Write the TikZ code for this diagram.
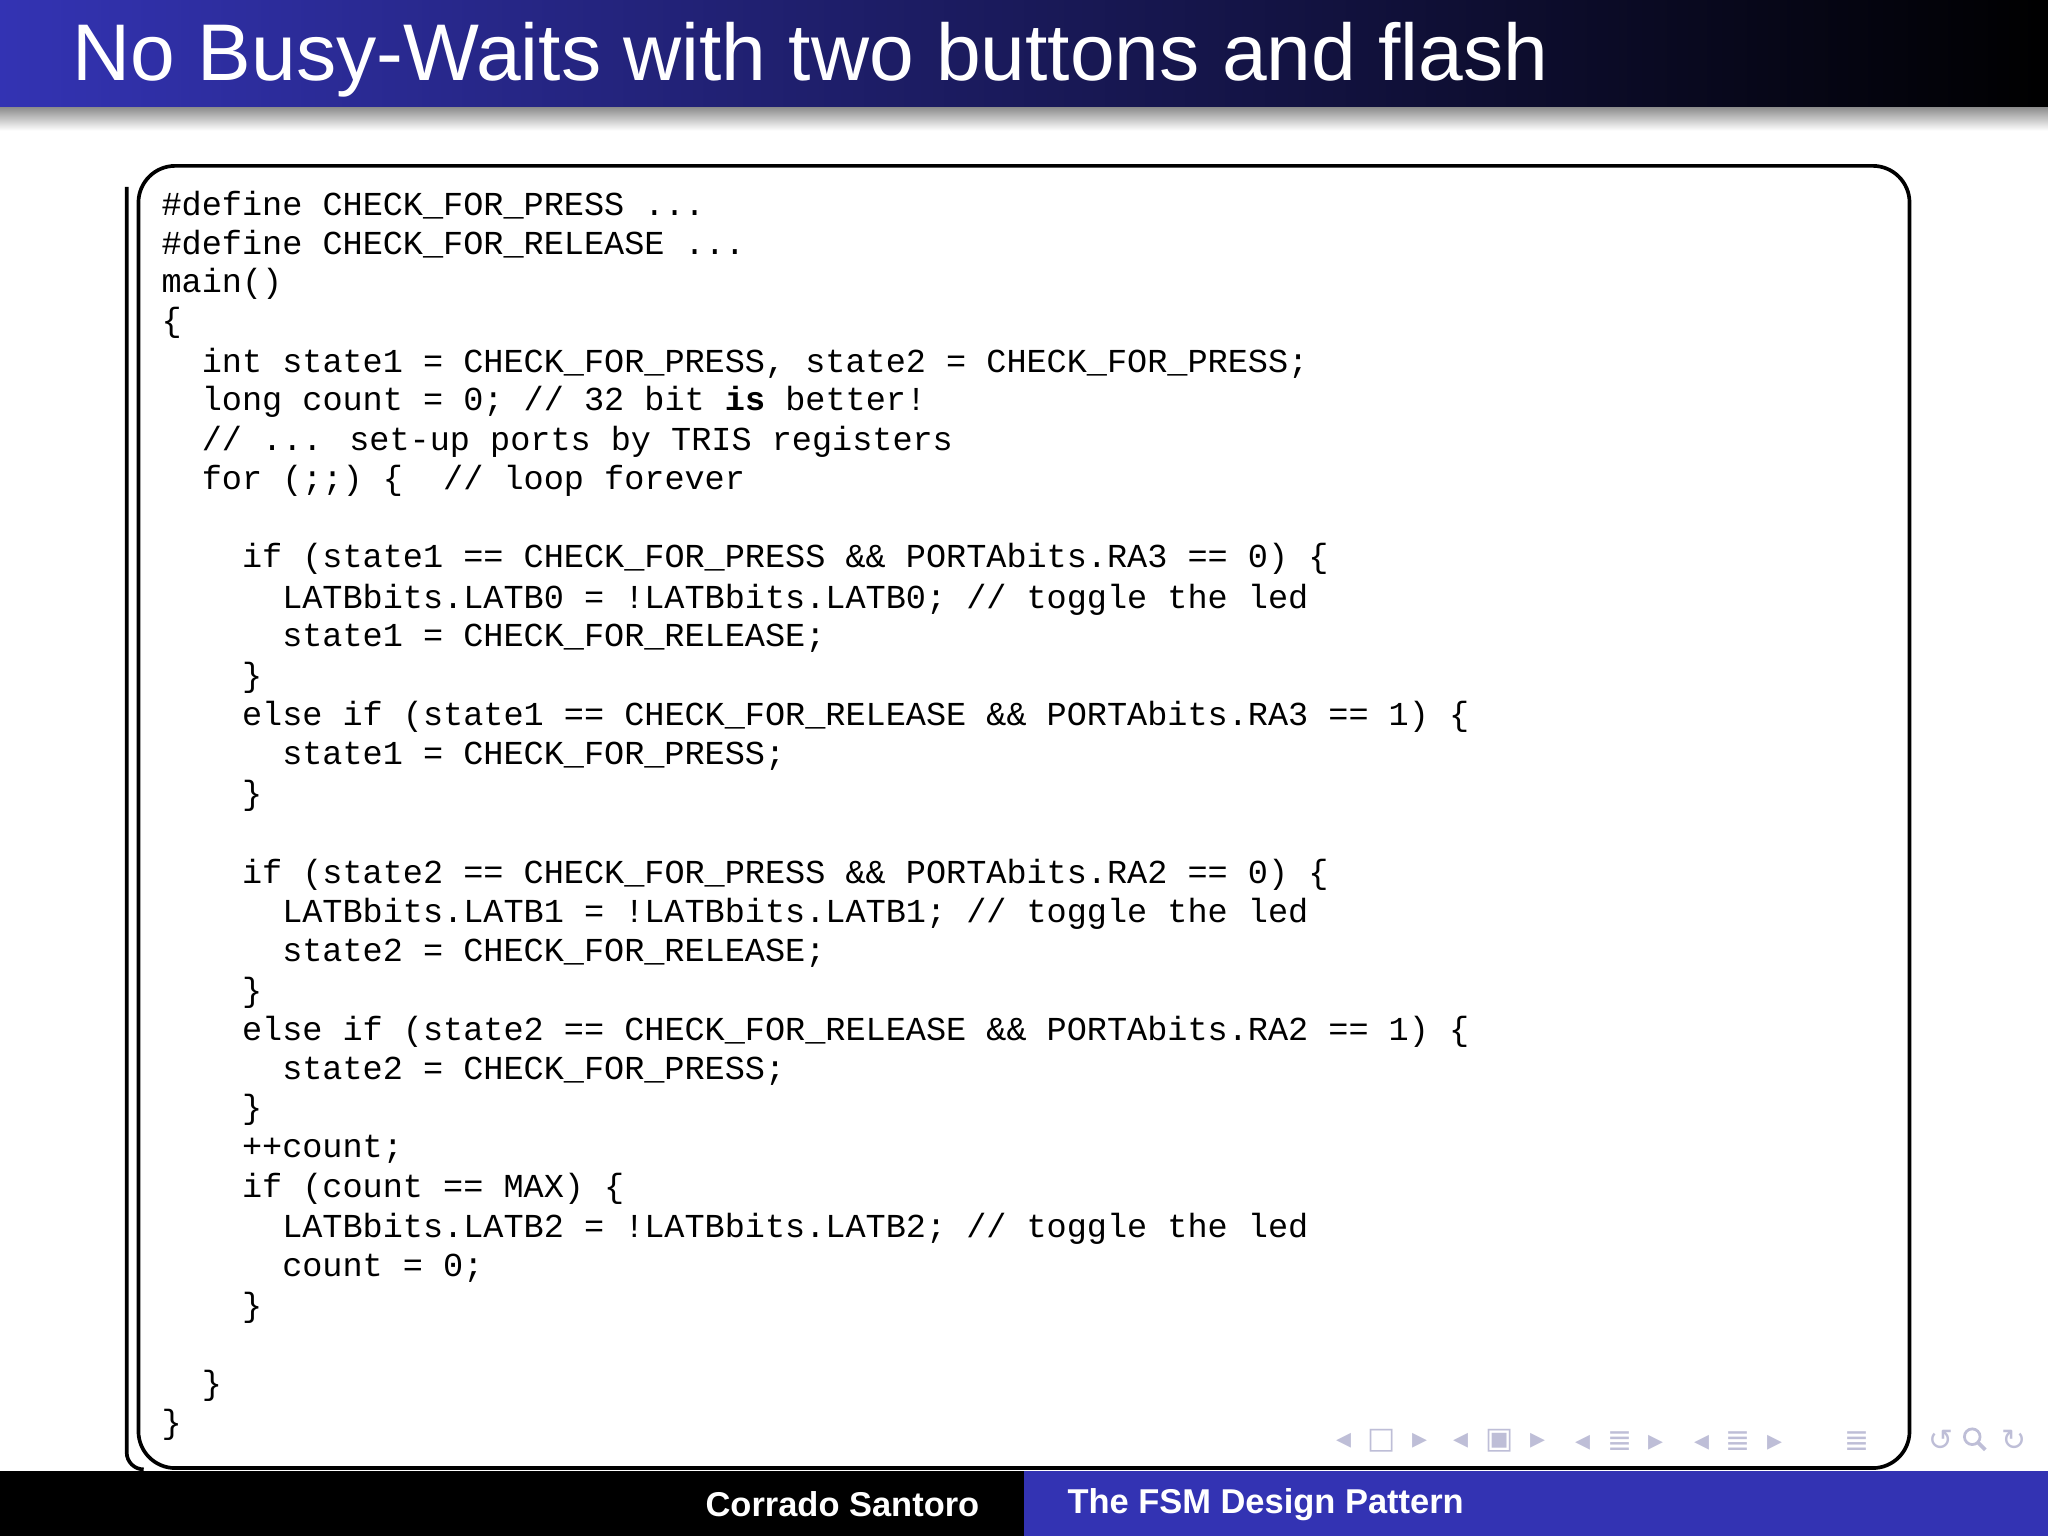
\documentclass[tikz,border=0pt]{standalone}
\usepackage{fontspec}
\setmainfont{Liberation Sans}
\newfontfamily\codefont{Liberation Mono}
\newfontfamily\symfont{DejaVu Sans}
\definecolor{barblue}{RGB}{51,51,179}
\definecolor{navgray}{RGB}{190,190,215}
\begin{document}
\begin{tikzpicture}[x=0.01cm,y=-0.01cm,
  code/.style={anchor=west,inner sep=0pt,font=\codefont\fontsize{7.3pt}{8pt}\selectfont},
  nav/.style={inner sep=0pt,text=navgray,font=\symfont\fontsize{6.5pt}{7pt}\selectfont},
  foot/.style={text=white,font=\bfseries\fontsize{7.5pt}{9pt}\selectfont,inner sep=0pt}]
\useasboundingbox (0,0) rectangle (1568,1176);
\fill[white] (0,0) rectangle (1568,1176);
% title bar
\shade[left color=barblue,right color=black] (0,0) rectangle (1568,82);
\shade[top color=black!45,bottom color=white] (0,82) rectangle (1568,100);
\node[anchor=base west,inner sep=0pt,text=white,font=\fontsize{17.5pt}{20pt}\selectfont] (title) at (55,62) {No Busy-Waits with two buttons and flash};
% code frame
\draw[line width=0.8pt,rounded corners=8] (106,127) rectangle (1462,1124);
\draw[line width=0.8pt] (97,143) -- (97,1112) to[out=-90,in=180] (110,1125);
% code lines
\newcommand\cl[3]{\node[code] at ({123+#1*15.4},#2) {#3};}
\cl{0}{157}{\#define CHECK\_FOR\_PRESS ...}
\cl{0}{187}{\#define CHECK\_FOR\_RELEASE ...}
\cl{0}{217}{main()}
\cl{0}{247}{\{}
\cl{2}{278}{int state1 = CHECK\_FOR\_PRESS, state2 = CHECK\_FOR\_PRESS;}
\cl{2}{308}{long count = 0; // 32 bit \textbf{is} better!}
\cl{2}{338}{// ... set-up ports by TRIS registers}
\cl{2}{368}{for (;;) \{\ \ // loop forever}
\cl{4}{428}{if (state1 == CHECK\_FOR\_PRESS \&\& PORTAbits.RA3 == 0) \{}
\cl{6}{459}{LATBbits.LATB0 = !LATBbits.LATB0; // toggle the led}
\cl{6}{489}{state1 = CHECK\_FOR\_RELEASE;}
\cl{4}{519}{\}}
\cl{4}{549}{else if (state1 == CHECK\_FOR\_RELEASE \&\& PORTAbits.RA3 == 1) \{}
\cl{6}{579}{state1 = CHECK\_FOR\_PRESS;}
\cl{4}{609}{\}}
\cl{4}{670}{if (state2 == CHECK\_FOR\_PRESS \&\& PORTAbits.RA2 == 0) \{}
\cl{6}{700}{LATBbits.LATB1 = !LATBbits.LATB1; // toggle the led}
\cl{6}{730}{state2 = CHECK\_FOR\_RELEASE;}
\cl{4}{760}{\}}
\cl{4}{790}{else if (state2 == CHECK\_FOR\_RELEASE \&\& PORTAbits.RA2 == 1) \{}
\cl{6}{820}{state2 = CHECK\_FOR\_PRESS;}
\cl{4}{850}{\}}
\cl{4}{880}{++count;}
\cl{4}{910}{if (count == MAX) \{}
\cl{6}{941}{LATBbits.LATB2 = !LATBbits.LATB2; // toggle the led}
\cl{6}{971}{count = 0;}
\cl{4}{1001}{\}}
\cl{2}{1061}{\}}
\cl{0}{1091}{\}}
% navigation symbols
\node[nav] (n1) at (1058,1103) {◂\;\;□\;\;▸};
\node[nav] (n2) at (1148,1103) {◂\;\;▣\;\;▸};
\node[nav] (n3) at (1240,1103) {◂\;\;≣\;\;▸};
\node[nav] (n4) at (1331,1103) {◂\;\;≣\;\;▸};
\node[nav] (n5) at (1422,1103) {≣};
\node[nav] (n6) at (1486,1103) {↺};
\node[nav] (n8) at (1542,1103) {↻};
\draw[navgray,line width=0.6pt] (1510,1100) circle (6);
\draw[navgray,line width=0.8pt] (1514,1104) -- (1520,1110);
% footer
\fill[black] (0,1126) rectangle (784,1176);
\fill[barblue] (784,1126) rectangle (1568,1176);
\node[foot] (author) at (645,1152) {Corrado Santoro};
\node[foot] (talk) at (969,1152) {The FSM Design Pattern};
\end{tikzpicture}
\end{document}
